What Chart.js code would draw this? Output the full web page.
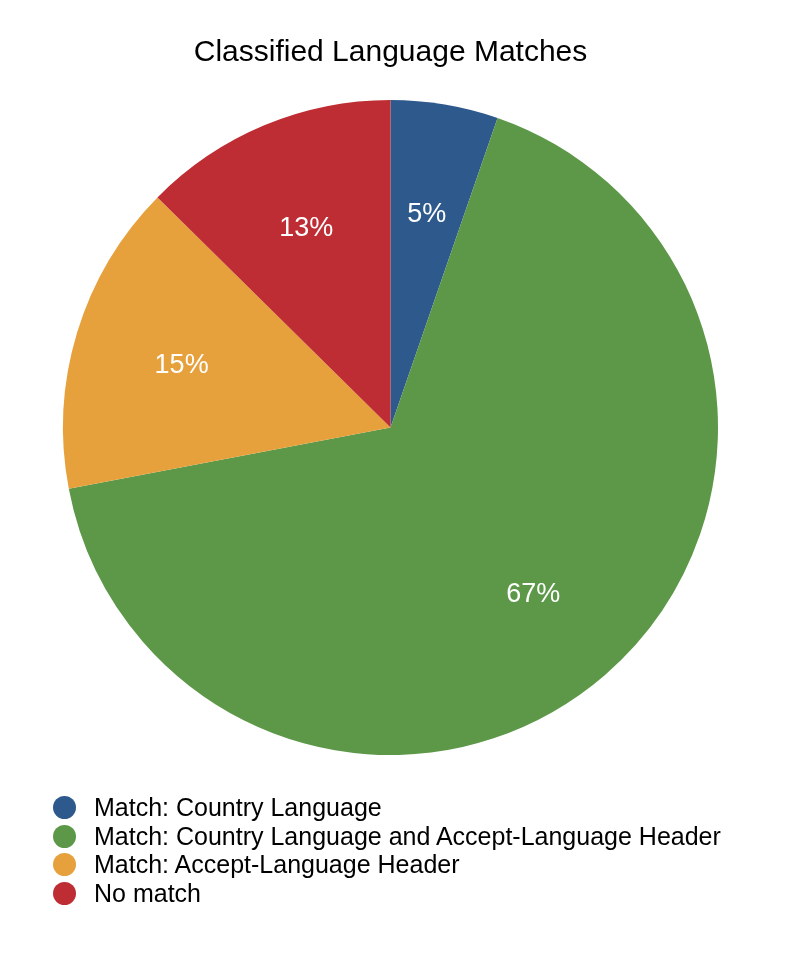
<!DOCTYPE html>
<html>
<head>
<meta charset="utf-8">
<script src="https://cdn.jsdelivr.net/npm/chart.js@4.4.1/dist/chart.umd.min.js"></script>
<style>
  html, body { margin: 0; padding: 0; background: #fff; }
  #wrap { position: relative; width: 800px; height: 960px; }
  #chart { position: absolute; left: 0; top: 0; }
  #legend {
    position: absolute; left: 53px; top: 793px;
    font-family: 'Liberation Sans', Arial, sans-serif; font-size: 25px; color: #000;
  }
  .item { display: flex; align-items: center; height: 28.7px; }
  .dot { width: 23px; height: 23px; border-radius: 50%; margin-right: 18px; flex: none; }
</style>
</head>
<body>
<div id="wrap">
  <canvas id="chart" width="800" height="960"></canvas>
  <div id="legend"></div>
</div>
<script>
const labels = [
  'Match: Country Language',
  'Match: Country Language and Accept-Language Header',
  'Match: Accept-Language Header',
  'No match'
];
const shares = [5.3, 66.7, 15.4, 12.6];
const colors = ['#2E598C', '#5C9848', '#E6A03C', '#BE2D33'];

const FONT = "'Liberation Sans', Arial, sans-serif";

// percent labels placed at 2/3 of the radius
const pctLabels = {
  id: 'pctLabels',
  afterDatasetsDraw(chart) {
    const { ctx } = chart;
    const meta = chart.getDatasetMeta(0);
    const total = shares.reduce((a, b) => a + b, 0);
    ctx.save();
    ctx.fillStyle = '#fff';
    ctx.font = '27px ' + FONT;
    ctx.textAlign = 'center';
    ctx.textBaseline = 'middle';
    meta.data.forEach((arc, i) => {
      const p = arc.getProps(['x', 'y', 'startAngle', 'endAngle', 'outerRadius'], true);
      const a = (p.startAngle + p.endAngle) / 2;
      const r = p.outerRadius * 2 / 3;
      const txt = Math.round(shares[i] / total * 100) + '%';
      ctx.fillText(txt, p.x + Math.cos(a) * r, p.y + Math.sin(a) * r + 2);
    });
    ctx.restore();
  }
};

new Chart(document.getElementById('chart'), {
  type: 'pie',
  data: {
    labels: labels,
    datasets: [{
      data: shares,
      backgroundColor: colors,
      borderWidth: 0,
      hoverOffset: 0
    }]
  },
  options: {
    responsive: false,
    animation: false,
    events: [],
    layout: { padding: { left: 0, right: 19, top: 0, bottom: 205 } },
    plugins: {
      legend: { display: false },
      tooltip: { enabled: false },
      title: {
        display: true,
        text: 'Classified Language Matches',
        color: '#000',
        font: { family: FONT, size: 30, weight: 'normal', lineHeight: 1.2 },
        padding: { top: 35, bottom: 29 }
      }
    }
  },
  plugins: [pctLabels]
});

const legendEl = document.getElementById('legend');
labels.forEach((name, i) => {
  const row = document.createElement('div');
  row.className = 'item';
  row.innerHTML = '<span class="dot" style="background:' + colors[i] + '"></span><span>' + name + '</span>';
  legendEl.appendChild(row);
});
</script>
</body>
</html>
